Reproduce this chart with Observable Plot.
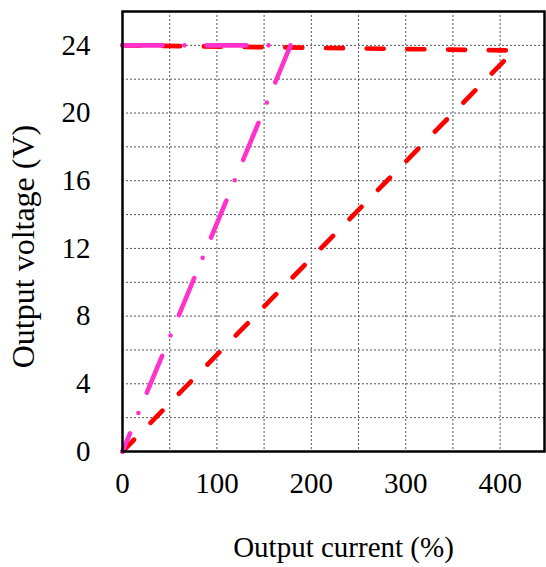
<!DOCTYPE html>
<html>
<head>
<meta charset="utf-8">
<script src="https://cdn.jsdelivr.net/npm/d3@7"></script>
<script src="https://cdn.jsdelivr.net/npm/@observablehq/plot@0.6"></script>
<style>
  html, body { margin: 0; padding: 0; background: white; }
  svg text { font-family: "Liberation Serif", "Times New Roman", serif; }
</style>
</head>
<body>
<div id="chart"></div>
<script>
// Tick labels and grid positions
const xTicks = [0, 100, 200, 300, 400];
const yTicks = [0, 4, 8, 12, 16, 20, 24];
const xGrid = [50, 100, 150, 200, 250, 300, 350, 400];
const yGrid = [2, 4, 6, 8, 10, 12, 14, 16, 18, 20, 22, 24];

// Series: red dashed (current limit ~415%)
const redCurrent = [0, 415, 0];
const redVoltage = [24, 23.7, 0];

// Series: magenta dash-dot (current limit ~178%)
const pinkCurrent = [0, 178, 0];
const pinkVoltage = [24, 24, 0];

const xLabel = "Output current (%)";
const yLabel = "Output voltage (V)";

const red = redCurrent.map((c, i) => ({current: c, voltage: redVoltage[i]}));
const pink = pinkCurrent.map((c, i) => ({current: c, voltage: pinkVoltage[i]}));

const serif = "Liberation Serif";

const chart = Plot.plot({
  width: 546,
  height: 567,
  marginLeft: 122,
  marginRight: 2,
  marginTop: 11,
  marginBottom: 116,
  x: {domain: [0, 447]},
  y: {domain: [0, 26]},
  style: {fontFamily: serif, fontSize: "29px", color: "black", background: "white"},
  marks: [
    Plot.gridX(xGrid, {stroke: "#555", strokeOpacity: 1, strokeWidth: 1, strokeDasharray: "2,2"}),
    Plot.gridY(yGrid, {stroke: "#555", strokeOpacity: 1, strokeWidth: 1, strokeDasharray: "2,2"}),
    Plot.line(red, {x: "current", y: "voltage", stroke: "#ff0000", strokeWidth: 4.7, strokeDasharray: "17,23.7", strokeLinecap: "round", strokeLinejoin: "round"}),
    Plot.line(pink, {x: "current", y: "voltage", stroke: "#ff33cc", strokeWidth: 4.6, strokeDasharray: "40,22,0,22", strokeLinecap: "round", strokeLinejoin: "round"}),
    Plot.frame({stroke: "black", strokeWidth: 2.5}),
    Plot.axisX(xTicks, {tickSize: 0, tickPadding: 21, fontSize: 29, fontFamily: serif, label: null}),
    Plot.axisY(yTicks, {tickSize: 0, tickPadding: 32, fontSize: 29, fontFamily: serif, label: null}),
    Plot.text([xLabel], {text: d => d, frameAnchor: "bottom", dx: 10, dy: 105, fontSize: 29, fontFamily: serif}),
    Plot.text([yLabel], {text: d => d, frameAnchor: "left", textAnchor: "middle", rotate: -90, dx: -98.5, dy: 15, fontSize: 32, fontFamily: serif})
  ]
});
document.getElementById("chart").appendChild(chart);
</script>
</body>
</html>
